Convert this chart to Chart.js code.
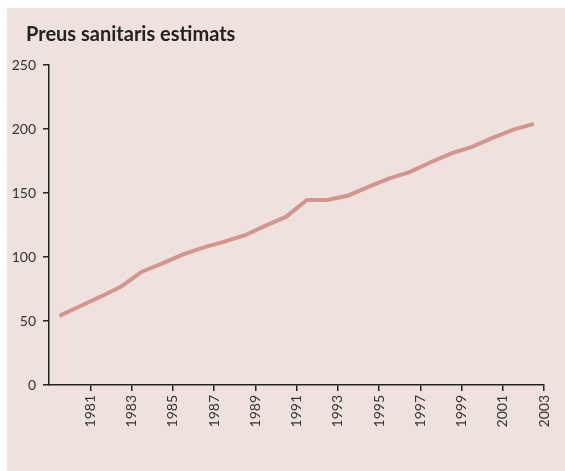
<!DOCTYPE html>
<html>
<head>
<meta charset="utf-8">
<script src="https://cdn.jsdelivr.net/npm/chart.js@4.4.0/dist/chart.umd.min.js"></script>
<style>
  html, body { margin: 0; padding: 0; background: #fff; }
  #wrap { position: relative; width: 565px; height: 471px; }
</style>
</head>
<body>
<div id="wrap"><canvas id="priceChart"></canvas></div>
<script>
// years (points sit at mid-year) and estimated price index
var years = [1979, 1980, 1981, 1982, 1983, 1984, 1985, 1986, 1987, 1988, 1989, 1990,
             1991, 1992, 1993, 1994, 1995, 1996, 1997, 1998, 1999, 2000, 2001, 2002];
var prices = [54, 61.5, 69, 77, 88.5, 95, 102, 107.5, 112, 117, 124.5, 131.5,
              144.5, 144.5, 148, 155, 161.5, 166.5, 174, 181, 186, 193, 199.5, 204];
var yTicks = [0, 50, 100, 150, 200, 250];
var titleText = 'Preus sanitaris estimats';

var points = [];
for (var i = 0; i < years.length; i++) {
    points.push({ x: years[i] + 0.5, y: prices[i] });
}

// pink panel + title in the top-left corner
var panel = {
    id: 'panel',
    beforeDraw: function (chart) {
        var c = chart.ctx;
        c.save();
        c.fillStyle = '#efe2de';
        c.fillRect(7, 8, chart.width - 7, chart.height - 8);
        c.fillStyle = '#222';
        c.font = 'bold 20px Lato';
        c.textAlign = 'left';
        c.textBaseline = 'middle';
        c.fillText(titleText, 26, 35);
        c.restore();
    }
};

var axisColor = '#222';
var tickFont = { family: 'Lato', size: 14 };

var ctx = document.getElementById('priceChart').getContext('2d');
var priceChart = new Chart(ctx, {
    type: 'line',
    data: {
        datasets: [{
            label: titleText,
            data: points,
            borderColor: '#d4958e',
            borderWidth: 4,
            pointRadius: 0,
            tension: 0,
            fill: false
        }]
    },
    options: {
        responsive: true,
        maintainAspectRatio: false,
        animation: false,
        layout: {
            padding: { left: 4, right: 12, top: 65, bottom: 0 }
        },
        plugins: {
            legend: { display: false },
            tooltip: { enabled: false },
            title: { display: false }
        },
        scales: {
            x: {
                type: 'linear',
                min: 1979,
                max: 2003,
                afterBuildTicks: function (scale) {
                    scale.ticks = scale.ticks.filter(function (t) { return t.value > 1979; });
                },
                afterFit: function (scale) { scale.height = 86; },
                border: { display: true, color: axisColor, width: 1.5 },
                grid: { drawOnChartArea: false, drawTicks: true, tickLength: 6, color: axisColor, lineWidth: 1.5 },
                ticks: {
                    stepSize: 2,
                    minRotation: 90,
                    maxRotation: 90,
                    padding: 4,
                    color: '#333',
                    font: tickFont,
                    callback: function (v) { return String(v); }
                }
            },
            y: {
                min: 0,
                max: 250,
                afterBuildTicks: function (scale) {
                    scale.ticks = yTicks.map(function (v) { return { value: v }; });
                },
                afterFit: function (scale) { scale.width = 45; },
                border: { display: true, color: axisColor, width: 1.5 },
                grid: { drawOnChartArea: false, drawTicks: true, tickLength: 6, color: axisColor, lineWidth: 1.5 },
                ticks: {
                    padding: 7,
                    color: '#333',
                    font: tickFont
                }
            }
        }
    },
    plugins: [panel]
});
</script>
</body>
</html>
